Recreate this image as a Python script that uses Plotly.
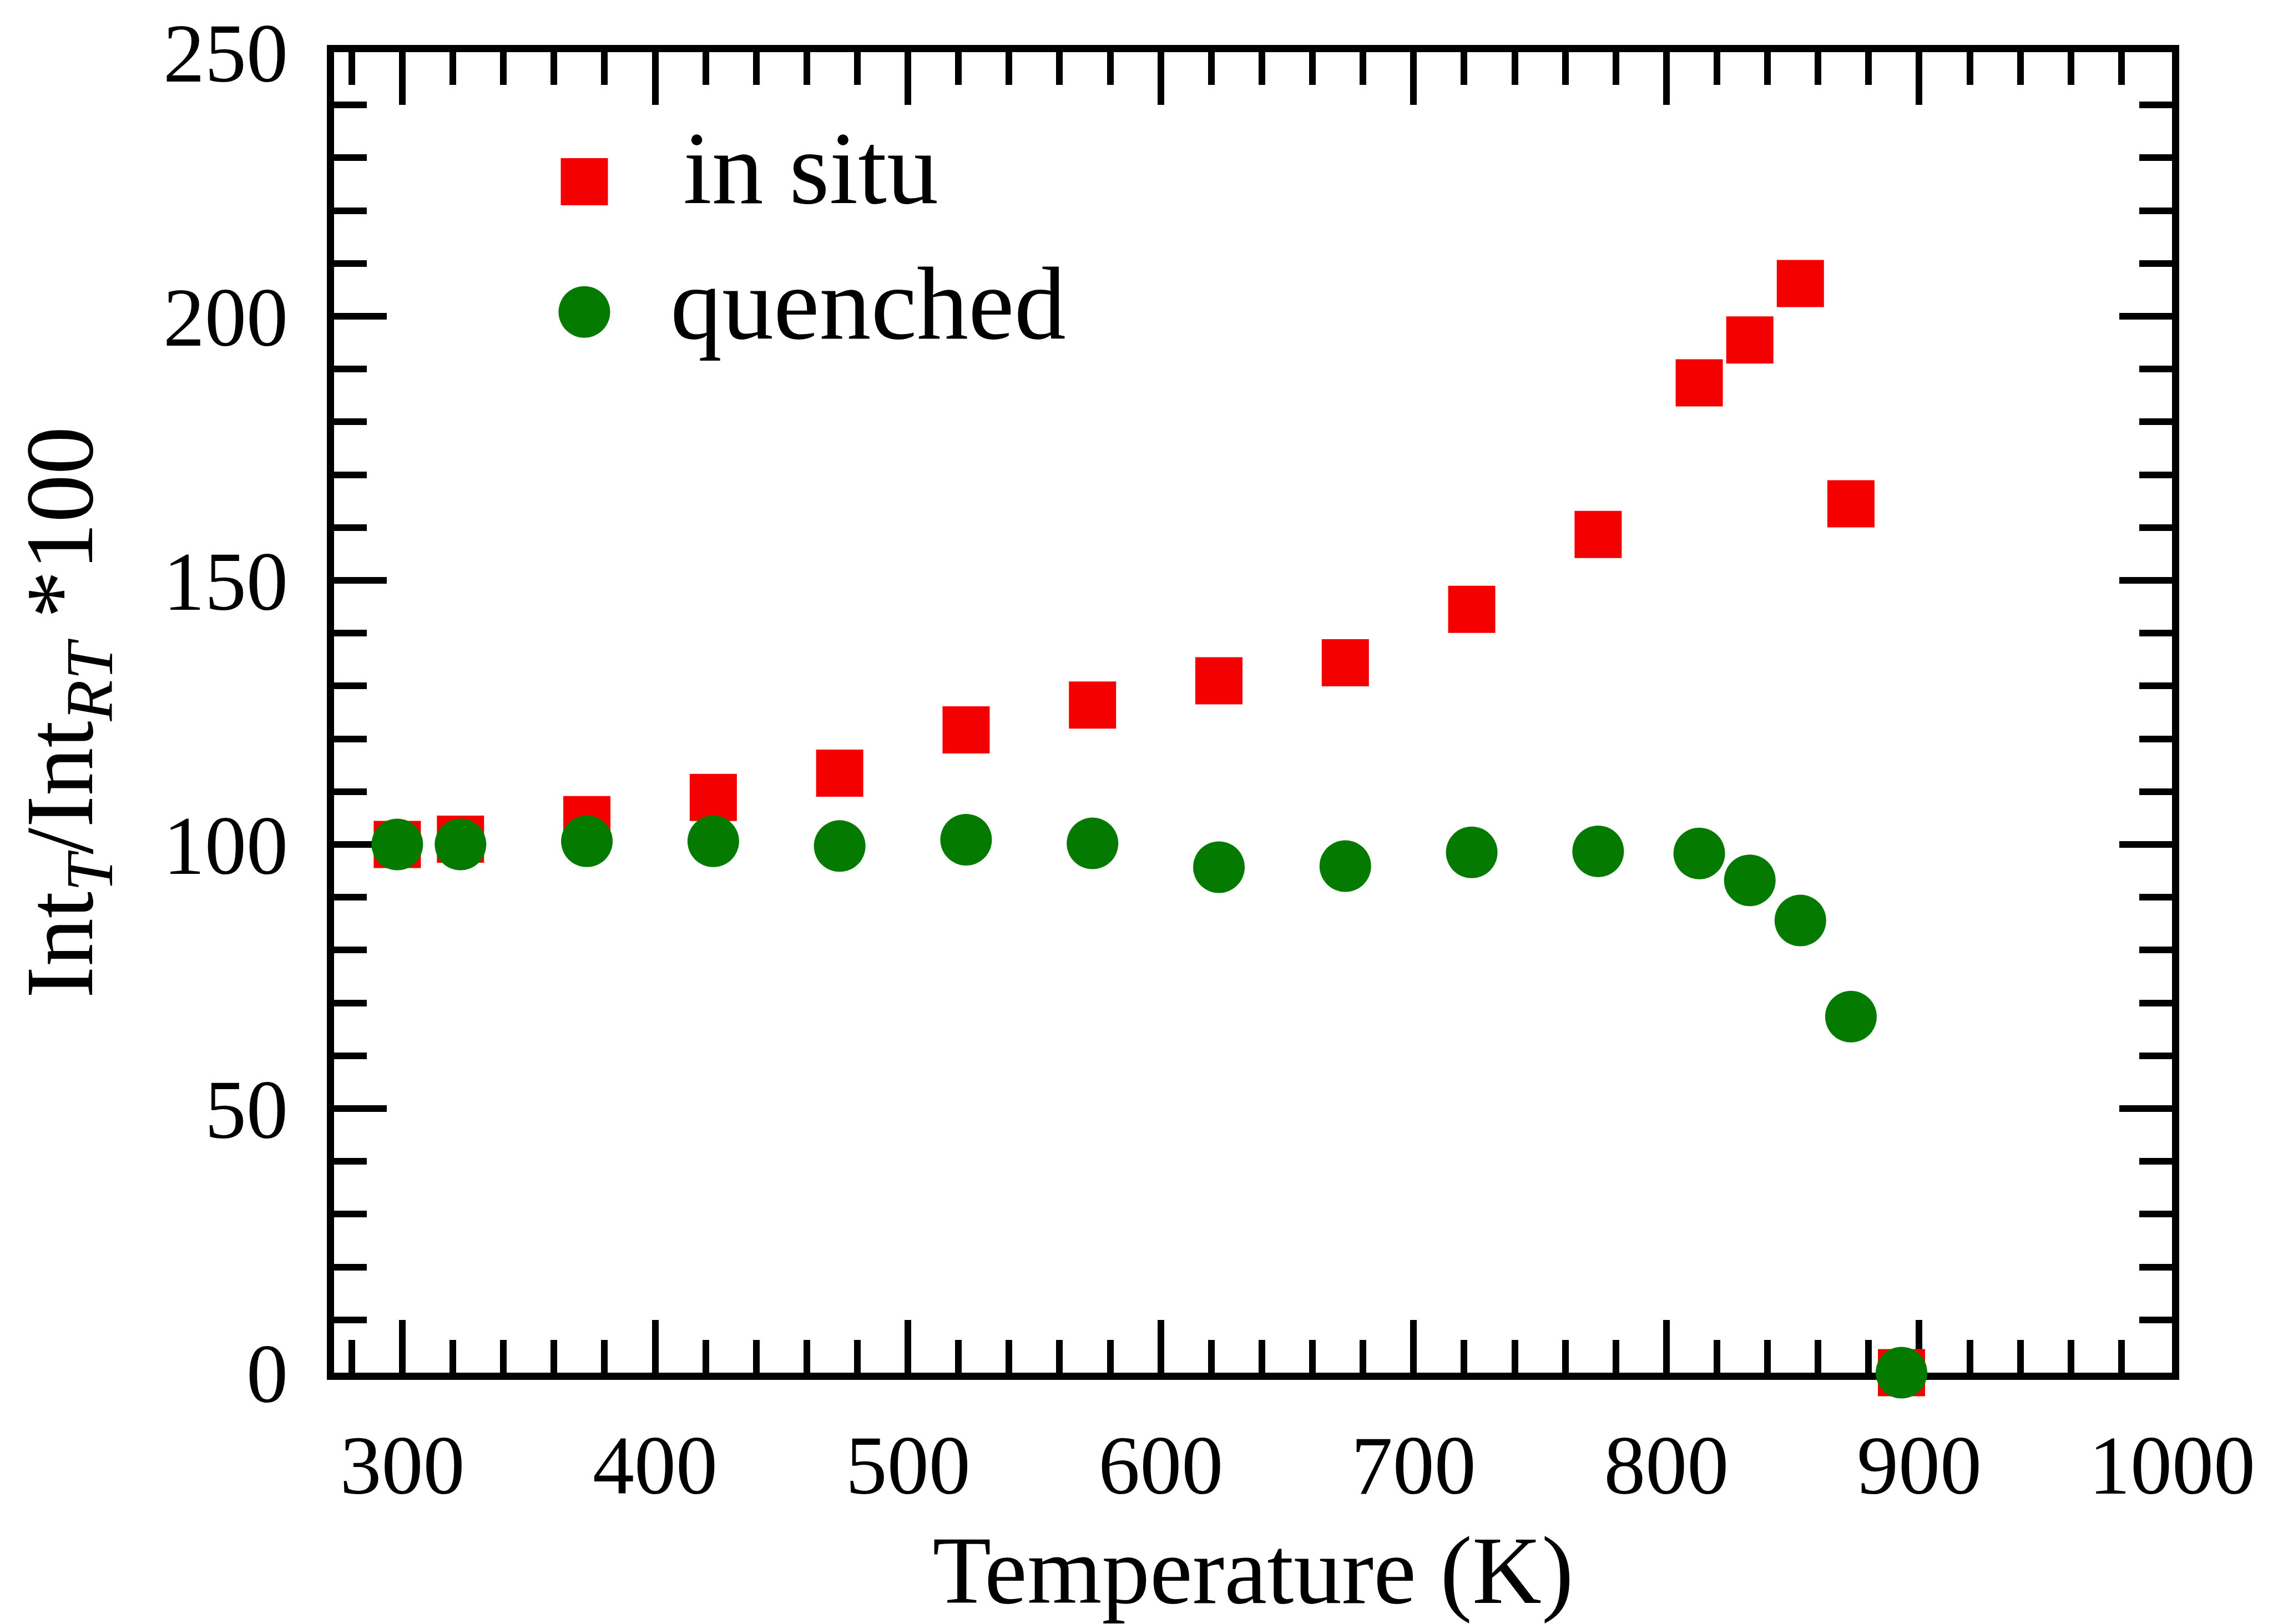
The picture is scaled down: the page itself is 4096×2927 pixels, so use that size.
import plotly.graph_objects as go

# ---- data ----
temperature = [298, 323, 373, 423, 473, 523, 573, 623, 673, 723, 773, 813, 833, 853, 873, 893]
in_situ = [100, 101, 104.7, 108.9, 113.5, 121.7, 126.4, 131.0, 134.4, 144.5, 158.7, 187.4, 195.5, 206.2, 164.5, 0]
quenched = [100, 100, 100.6, 100.6, 99.7, 100.9, 100.2, 95.7, 95.9, 98.5, 98.7, 98.3, 93.2, 85.6, 67.4, 0]
series_names = ["in situ", "quenched"]
x_ticks = [300, 400, 500, 600, 700, 800, 900, 1000]
y_ticks = [0, 50, 100, 150, 200, 250]

RED = "#f40000"
GREEN = "#047b00"
FONT = "Liberation Serif"

W, H = 4096, 2927
L, R, T, B = 602, 182, 90, 453

fig = go.Figure()
fig.add_trace(go.Scatter(x=temperature, y=in_situ, mode="markers", name=series_names[0],
                         marker=dict(symbol="square", size=85, color=RED, line=dict(width=0)),
                         cliponaxis=False, showlegend=False))
fig.add_trace(go.Scatter(x=temperature, y=quenched, mode="markers", name=series_names[1],
                         marker=dict(symbol="circle", size=93, color=GREEN, line=dict(width=0)),
                         cliponaxis=False, showlegend=False))

# legend drawn on a hidden overlay axis (paper-like 0..1 coordinates)
pw = W - L - R
ph = H - T - B
leg_x = (1053 - L) / pw
leg_y = [(H - B - 324) / ph, (H - B - 559) / ph]
fig.add_trace(go.Scatter(x=[leg_x], y=[leg_y[0]], xaxis="x2", yaxis="y2", mode="markers",
                         marker=dict(symbol="square", size=85, color=RED, line=dict(width=0)),
                         showlegend=False, cliponaxis=False, hoverinfo="skip"))
fig.add_trace(go.Scatter(x=[leg_x], y=[leg_y[1]], xaxis="x2", yaxis="y2", mode="markers",
                         marker=dict(symbol="circle", size=93, color=GREEN, line=dict(width=0)),
                         showlegend=False, cliponaxis=False, hoverinfo="skip"))

txt_x = [(1229 - L) / pw, (1206 - L) / pw]
txt_y = [(H - B - 324 + 25) / ph, (H - B - 559 + 15) / ph]
for name, tx, ty in zip(series_names, txt_x, txt_y):
    fig.add_annotation(x=tx, y=ty, xref="paper", yref="paper", text=name, showarrow=False,
                       xanchor="left", yanchor="middle",
                       font=dict(family=FONT, size=186, color="black"))

axis_common = dict(
    showline=True, linecolor="black", linewidth=13, mirror="ticks",
    ticks="inside", tickcolor="black", tickwidth=12,
    showgrid=False, zeroline=False, layer="below traces",
    tickfont=dict(family=FONT, size=150, color="black"),
)

fig.update_layout(
    width=W, height=H,
    margin=dict(l=L, r=R, t=T, b=B, pad=0),
    paper_bgcolor="white", plot_bgcolor="white",
    showlegend=False,
    xaxis=dict(range=[273, 1000], tickmode="array", tickvals=x_ticks, ticklen=95,
               minor=dict(dtick=20, tick0=0, ticks="inside", ticklen=59, tickwidth=12, tickcolor="black"),
               ticklabelstandoff=25,
               title=dict(text="Temperature (K)", font=dict(family=FONT, size=173, color="black"), standoff=50),
               **axis_common),
    yaxis=dict(range=[0, 250], tickmode="array", tickvals=y_ticks, ticklen=95,
               minor=dict(dtick=10, tick0=0, ticks="inside", ticklen=59, tickwidth=12, tickcolor="black"),
               ticklabelstandoff=40,
               title=dict(text="Int<sub><i>T</i></sub>/Int<sub><i>RT</i></sub> *100",
                          font=dict(family=FONT, size=173, color="black"), standoff=74),
               **axis_common),
    xaxis2=dict(overlaying="x", range=[0, 1], visible=False),
    yaxis2=dict(overlaying="y", range=[0, 1], visible=False),
)

fig.write_html("out.html")
